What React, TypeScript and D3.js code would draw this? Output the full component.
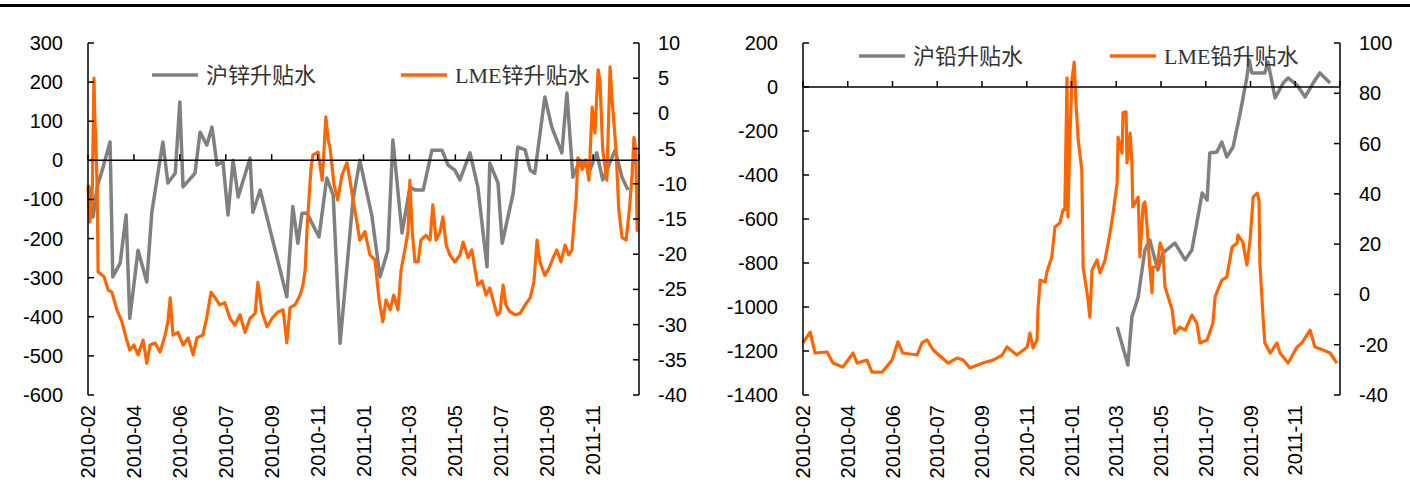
import * as d3 from 'd3';

// category axis labels (one every 10 periods)
const xLabels = ['2010-02', '2010-04', '2010-06', '2010-07', '2010-09', '2010-11', '2011-01', '2011-03', '2011-05', '2011-07', '2011-09', '2011-11'];
const periodSpan = 120;

const znLeftTicks = [300, 200, 100, 0, -100, -200, -300, -400, -500, -600];
const znRightTicks = [10, 5, 0, -5, -10, -15, -20, -25, -30, -35, -40];
const pbLeftTicks = [200, 0, -200, -400, -600, -800, -1000, -1200, -1400];
const pbRightTicks = [100, 80, 60, 40, 20, 0, -20, -40];

// [period, value]
const shZinc: [number, number][] = [
  [0, -63], [0.4, -76], [1.1, -145], [2.0, -68], [3.3, -17], [4.8, 47], [5.4, -298], [7.0, -263], [8.3, -140],
  [9.1, -404], [10.9, -230], [12.8, -311], [13.9, -133], [16.3, 47], [17.4, -58], [19.0, -33], [20.0, 149],
  [20.7, -68], [23.3, -33], [24.4, 72], [25.9, 39], [27.0, 85], [28.1, -12], [29.4, -4], [30.5, -140], [31.6, 0],
  [32.7, -94], [35.3, 6], [35.9, -133], [37.5, -76], [43.3, -349], [44.6, -118], [45.7, -212], [46.6, -135],
  [47.7, -135], [50.3, -196], [52.0, -45], [53.4, -89], [54.9, -468], [57.7, -102], [59.2, 0], [61.8, -140],
  [63.6, -298], [65.3, -230], [66.4, 52], [68.4, -186], [70.1, -68], [71.2, -76], [73.0, -76], [74.9, 26],
  [77.1, 26], [78.4, -12], [79.9, -25], [81.0, -50], [83.2, 19], [84.9, -68], [86.9, -272], [87.5, -7],
  [89.3, -58], [90.2, -212], [92.6, -84], [93.6, 34], [95.2, 27], [96.3, -25], [97.3, -33], [99.5, 162],
  [101.0, 85], [103.2, 19], [104.3, 172], [105.6, -43], [107.1, 0], [109.3, -25], [110.8, 19], [112.1, -50],
  [114.8, 26], [116.3, -43], [117.6, -76],
];

const lmeZinc: [number, number][] = [
  [0, -10.5], [0.4, -15.4], [0.9, -12.3], [1.3, 5.0], [1.5, -0.9], [1.7, -3.8], [2.0, -10.9], [2.2, -22.5],
  [3.5, -23.2], [4.4, -25.1], [5.2, -25.4], [6.3, -27.9], [7.4, -29.6], [8.3, -31.9], [9.1, -33.6], [10.0, -32.9],
  [10.9, -34.3], [12.0, -32.2], [12.8, -35.5], [13.5, -32.9], [14.6, -32.6], [15.7, -33.9], [16.8, -31.5],
  [17.4, -29.6], [17.9, -26.2], [18.5, -31.5], [19.6, -31.1], [20.7, -32.9], [21.8, -31.9], [22.9, -34.3],
  [23.7, -31.9], [25.0, -31.5], [25.9, -28.9], [26.8, -25.4], [27.7, -26.2], [28.7, -27.2], [29.8, -26.9],
  [30.9, -29.1], [32.0, -30.1], [33.1, -28.6], [34.2, -31.1], [35.3, -29.1], [36.4, -28.4], [37.0, -24.0],
  [37.9, -28.2], [39.0, -30.3], [40.1, -29.1], [41.4, -28.2], [42.5, -27.9], [43.3, -32.6], [44.0, -27.6],
  [45.1, -27.2], [46.2, -25.8], [46.8, -24.4], [47.3, -22.2], [47.7, -16.6], [48.1, -12.3], [48.6, -7.6],
  [49.0, -5.9], [50.1, -5.5], [51.0, -9.5], [51.4, -5.2], [51.8, -0.5], [52.3, -3.8], [52.7, -4.8],
  [53.6, -10.2], [54.4, -12.3], [55.3, -8.8], [56.4, -7.0], [57.1, -9.7], [58.1, -13.7], [59.2, -18.0],
  [60.3, -16.8], [61.4, -20.1], [62.5, -20.8], [63.4, -26.5], [64.2, -29.6], [64.9, -26.5], [65.8, -27.9],
  [66.6, -25.8], [67.5, -27.9], [68.2, -22.2], [69.0, -19.4], [69.7, -16.8], [70.1, -9.5], [70.6, -16.6],
  [71.2, -21.1], [71.9, -21.1], [72.5, -18.0], [73.6, -17.3], [74.5, -18.0], [75.1, -13.0], [75.8, -18.0],
  [76.7, -16.8], [77.3, -14.7], [78.0, -18.7], [78.8, -20.1], [79.9, -21.1], [81.0, -20.1], [81.7, -18.3],
  [82.8, -20.5], [83.6, -19.4], [84.3, -22.2], [84.9, -24.4], [85.8, -23.8], [86.7, -25.8], [87.5, -24.8],
  [88.2, -26.5], [89.1, -28.6], [89.7, -28.3], [90.4, -24.4], [91.0, -27.2], [91.9, -28.2], [93.0, -28.6],
  [94.1, -28.4], [95.2, -27.2], [96.3, -26.2], [97.1, -24.0], [97.8, -18.0], [98.4, -21.1], [99.5, -23.0],
  [100.4, -22.0], [101.3, -20.5], [102.1, -19.4], [103.0, -21.1], [103.9, -18.7], [104.7, -20.1],
  [105.4, -19.4], [105.8, -15.9], [106.3, -12.3], [106.7, -6.3], [107.6, -8.0], [108.4, -6.6], [109.1, -9.5],
  [109.8, 0.9], [110.4, -2.8], [111.1, 6.2], [111.5, 4.7], [112.1, -5.2], [113.0, -9.5], [113.7, 6.6],
  [114.1, 2.3], [115.0, -5.2], [115.6, -13.7], [116.3, -17.6], [117.2, -18.0], [117.8, -14.4], [118.5, -8.8],
  [118.9, -3.4], [119.3, -5.2], [119.6, -16.8],
];

const shLead: [number, number][] = [
  [70.2, -1091], [72.6, -1264], [73.5, -1045], [74.9, -955], [76.4, -741], [77.5, -695], [79.3, -832],
  [80.4, -755], [83.1, -709], [85.4, -786], [86.9, -741], [88.0, -618], [89.2, -482], [90.3, -514],
  [90.9, -300], [92.5, -295], [93.6, -250], [94.7, -318], [96.1, -273], [97.7, -118], [99.2, 45], [99.7, 123],
  [100.3, 64], [103.2, 64], [103.9, 114], [105.5, -50], [107.3, 18], [108.4, 41], [110.4, 9], [112.2, -45],
  [114.0, 18], [115.5, 64], [117.8, 18],
];

const lmeLead: [number, number][] = [
  [0, -19.3], [1.6, -15.0], [2.7, -23.3], [5.4, -22.9], [6.7, -27.3], [8.9, -28.9], [11.2, -23.3], [12.1, -27.3],
  [14.3, -26.1], [15.4, -30.9], [17.7, -30.9], [19.9, -26.1], [21.2, -18.9], [22.3, -23.3], [25.5, -24.1],
  [26.6, -19.3], [27.7, -18.1], [29.1, -22.1], [32.4, -27.3], [34.4, -25.3], [35.8, -26.1], [37.3, -29.3],
  [40.2, -27.3], [42.5, -26.1], [44.5, -24.1], [45.6, -20.9], [47.8, -24.1], [50.1, -20.9], [50.7, -15.4],
  [51.4, -21.3], [52.3, -18.1], [52.5, -6.2], [53.0, 5.7], [54.1, 4.9], [54.5, 8.9], [55.6, 14.9], [56.3, 26.8],
  [57.4, 28.4], [58.1, 33.6], [58.5, 33.6], [59.0, 86.1], [59.2, 30.8], [59.7, 65.4], [60.1, 85.3], [60.6, 92.4],
  [61.0, 76.1], [61.5, 61.4], [62.3, 49.5], [62.6, 10.9], [63.7, -2.2], [64.1, -9.0], [64.6, 9.7], [65.7, 13.7],
  [66.4, 8.5], [67.5, 13.7], [68.6, 24.4], [69.3, 32.4], [70.2, 44.3], [70.4, 62.6], [71.3, 56.2], [71.5, 72.2],
  [72.2, 72.6], [72.4, 52.3], [73.1, 64.2], [73.5, 52.3], [73.7, 34.8], [74.9, 38.7], [75.3, 14.9], [76.0, 35.6],
  [76.4, 36.8], [76.9, 26.8], [77.5, 10.9], [78.0, 0.6], [78.2, 10.9], [79.1, 10.9], [79.8, 20.4], [80.4, 17.7],
  [80.9, 2.9], [81.6, -1.0], [82.5, -6.2], [83.1, -15.4], [84.2, -13.0], [85.4, -14.2], [86.9, -8.2],
  [88.0, -11.4], [88.7, -19.3], [90.3, -18.1], [91.6, -11.4], [92.1, -1.0], [92.7, 1.8], [93.6, 5.7],
  [94.7, 6.9], [95.9, 18.9], [97.0, 20.4], [97.2, 23.6], [98.3, 20.8], [99.2, 11.7], [99.9, 21.6], [100.6, 38.7],
  [101.5, 40.3], [101.9, 37.5], [102.1, 12.5], [102.8, -9.0], [103.2, -19.3], [104.4, -23.3], [105.9, -19.3],
  [106.6, -23.3], [108.4, -27.3], [110.4, -20.9], [111.5, -19.3], [113.3, -14.2], [114.4, -20.9],
  [116.2, -22.1], [117.8, -23.3], [119.3, -27.3],
];

const GRAY = '#808080';
const ORANGE = '#FF6600';
const axisFont = "'Liberation Sans', Arial, sans-serif";
const legendFont = "'Liberation Serif', 'Times New Roman', 'Noto Sans CJK SC', serif";

interface PanelProps {
  x0: number;
  x1: number;
  top: number;
  bottom: number;
  leftTicks: number[];
  rightTicks: number[];
  gray: [number, number][];
  orange: [number, number][];
  grayName: string;
  orangeName: string;
  legendY: number;
  grayLegendX: number;
  orangeLegendX: number;
}

function Panel({ x0, x1, top, bottom, leftTicks, rightTicks, gray, orange, grayName, orangeName, legendY, grayLegendX, orangeLegendX }: PanelProps) {
  const x = d3.scaleLinear().domain([0, periodSpan]).range([x0, x1]);
  const yL = d3.scaleLinear().domain(d3.extent(leftTicks) as [number, number]).range([bottom, top]);
  const yR = d3.scaleLinear().domain(d3.extent(rightTicks) as [number, number]).range([bottom, top]);

  const grayLine = d3.line<[number, number]>().x(d => x(d[0])).y(d => yL(d[1]));
  const orangeLine = d3.line<[number, number]>().x(d => x(d[0])).y(d => yR(d[1]));

  const zeroY = yL(0);
  const tickLen = 6;
  const catTicks = d3.range(0, periodSpan + 1, 10);

  return (
    <g>
      <path d={grayLine(gray) ?? ''} fill="none" stroke={GRAY} strokeWidth={3.5} strokeLinejoin="round" />
      <path d={orangeLine(orange) ?? ''} fill="none" stroke={ORANGE} strokeWidth={3.2} strokeLinejoin="round" />

      {/* category axis on the zero line */}
      <line x1={x0} x2={x1} y1={zeroY} y2={zeroY} stroke="#000" strokeWidth={1.5} />
      {catTicks.map(t => (
        <line key={t} x1={x(t)} x2={x(t)} y1={zeroY} y2={zeroY - tickLen} stroke="#000" strokeWidth={1.5} />
      ))}
      {xLabels.map((lab, i) => (
        <text key={lab} transform={`translate(${x(i * 10) + 7},${bottom + 10}) rotate(-90)`}
          textAnchor="end" fontFamily={axisFont} fontSize={20} fill="#000">{lab}</text>
      ))}

      {/* left axis */}
      <line x1={x0} x2={x0} y1={top} y2={bottom} stroke="#000" strokeWidth={1.5} />
      {leftTicks.map(t => (
        <g key={t}>
          <line x1={x0} x2={x0 + tickLen} y1={yL(t)} y2={yL(t)} stroke="#000" strokeWidth={1.5} />
          <text x={x0 - 25} y={yL(t)} dy="0.35em" textAnchor="end" fontFamily={axisFont} fontSize={20} fill="#000">{t}</text>
        </g>
      ))}

      {/* right axis */}
      <line x1={x1} x2={x1} y1={top} y2={bottom} stroke="#000" strokeWidth={1.5} />
      {rightTicks.map(t => (
        <g key={t}>
          <line x1={x1 - tickLen} x2={x1} y1={yR(t)} y2={yR(t)} stroke="#000" strokeWidth={1.5} />
          <text x={x1 + 19} y={yR(t)} dy="0.35em" textAnchor="start" fontFamily={axisFont} fontSize={20} fill="#000">{t}</text>
        </g>
      ))}

      {/* legend */}
      <line x1={grayLegendX} x2={grayLegendX + 46} y1={legendY} y2={legendY} stroke={GRAY} strokeWidth={3.5} />
      <text x={grayLegendX + 54} y={legendY} dy="0.35em" fontFamily={legendFont} fontSize={22} fill="#333">{grayName}</text>
      <line x1={orangeLegendX} x2={orangeLegendX + 46} y1={legendY} y2={legendY} stroke={ORANGE} strokeWidth={3.5} />
      <text x={orangeLegendX + 54} y={legendY} dy="0.35em" fontFamily={legendFont} fontSize={22} fill="#333">{orangeName}</text>
    </g>
  );
}

export default function App() {
  return (
    <svg width={1410} height={500} style={{ position: 'absolute', left: 0, top: 0, background: '#fff' }}>
      <rect x={0} y={0} width={1410} height={500} fill="#fff" />
      <rect x={0} y={4} width={1410} height={3} fill="#000" />
      <Panel x0={88} x1={639} top={43} bottom={395} leftTicks={znLeftTicks} rightTicks={znRightTicks}
        gray={shZinc} orange={lmeZinc} grayName="沪锌升贴水" orangeName="LME锌升贴水"
        legendY={75} grayLegendX={152} orangeLegendX={401} />
      <Panel x0={803} x1={1340} top={43} bottom={395} leftTicks={pbLeftTicks} rightTicks={pbRightTicks}
        gray={shLead} orange={lmeLead} grayName="沪铅升贴水" orangeName="LME铅升贴水"
        legendY={56} grayLegendX={859} orangeLegendX={1110} />
    </svg>
  );
}
